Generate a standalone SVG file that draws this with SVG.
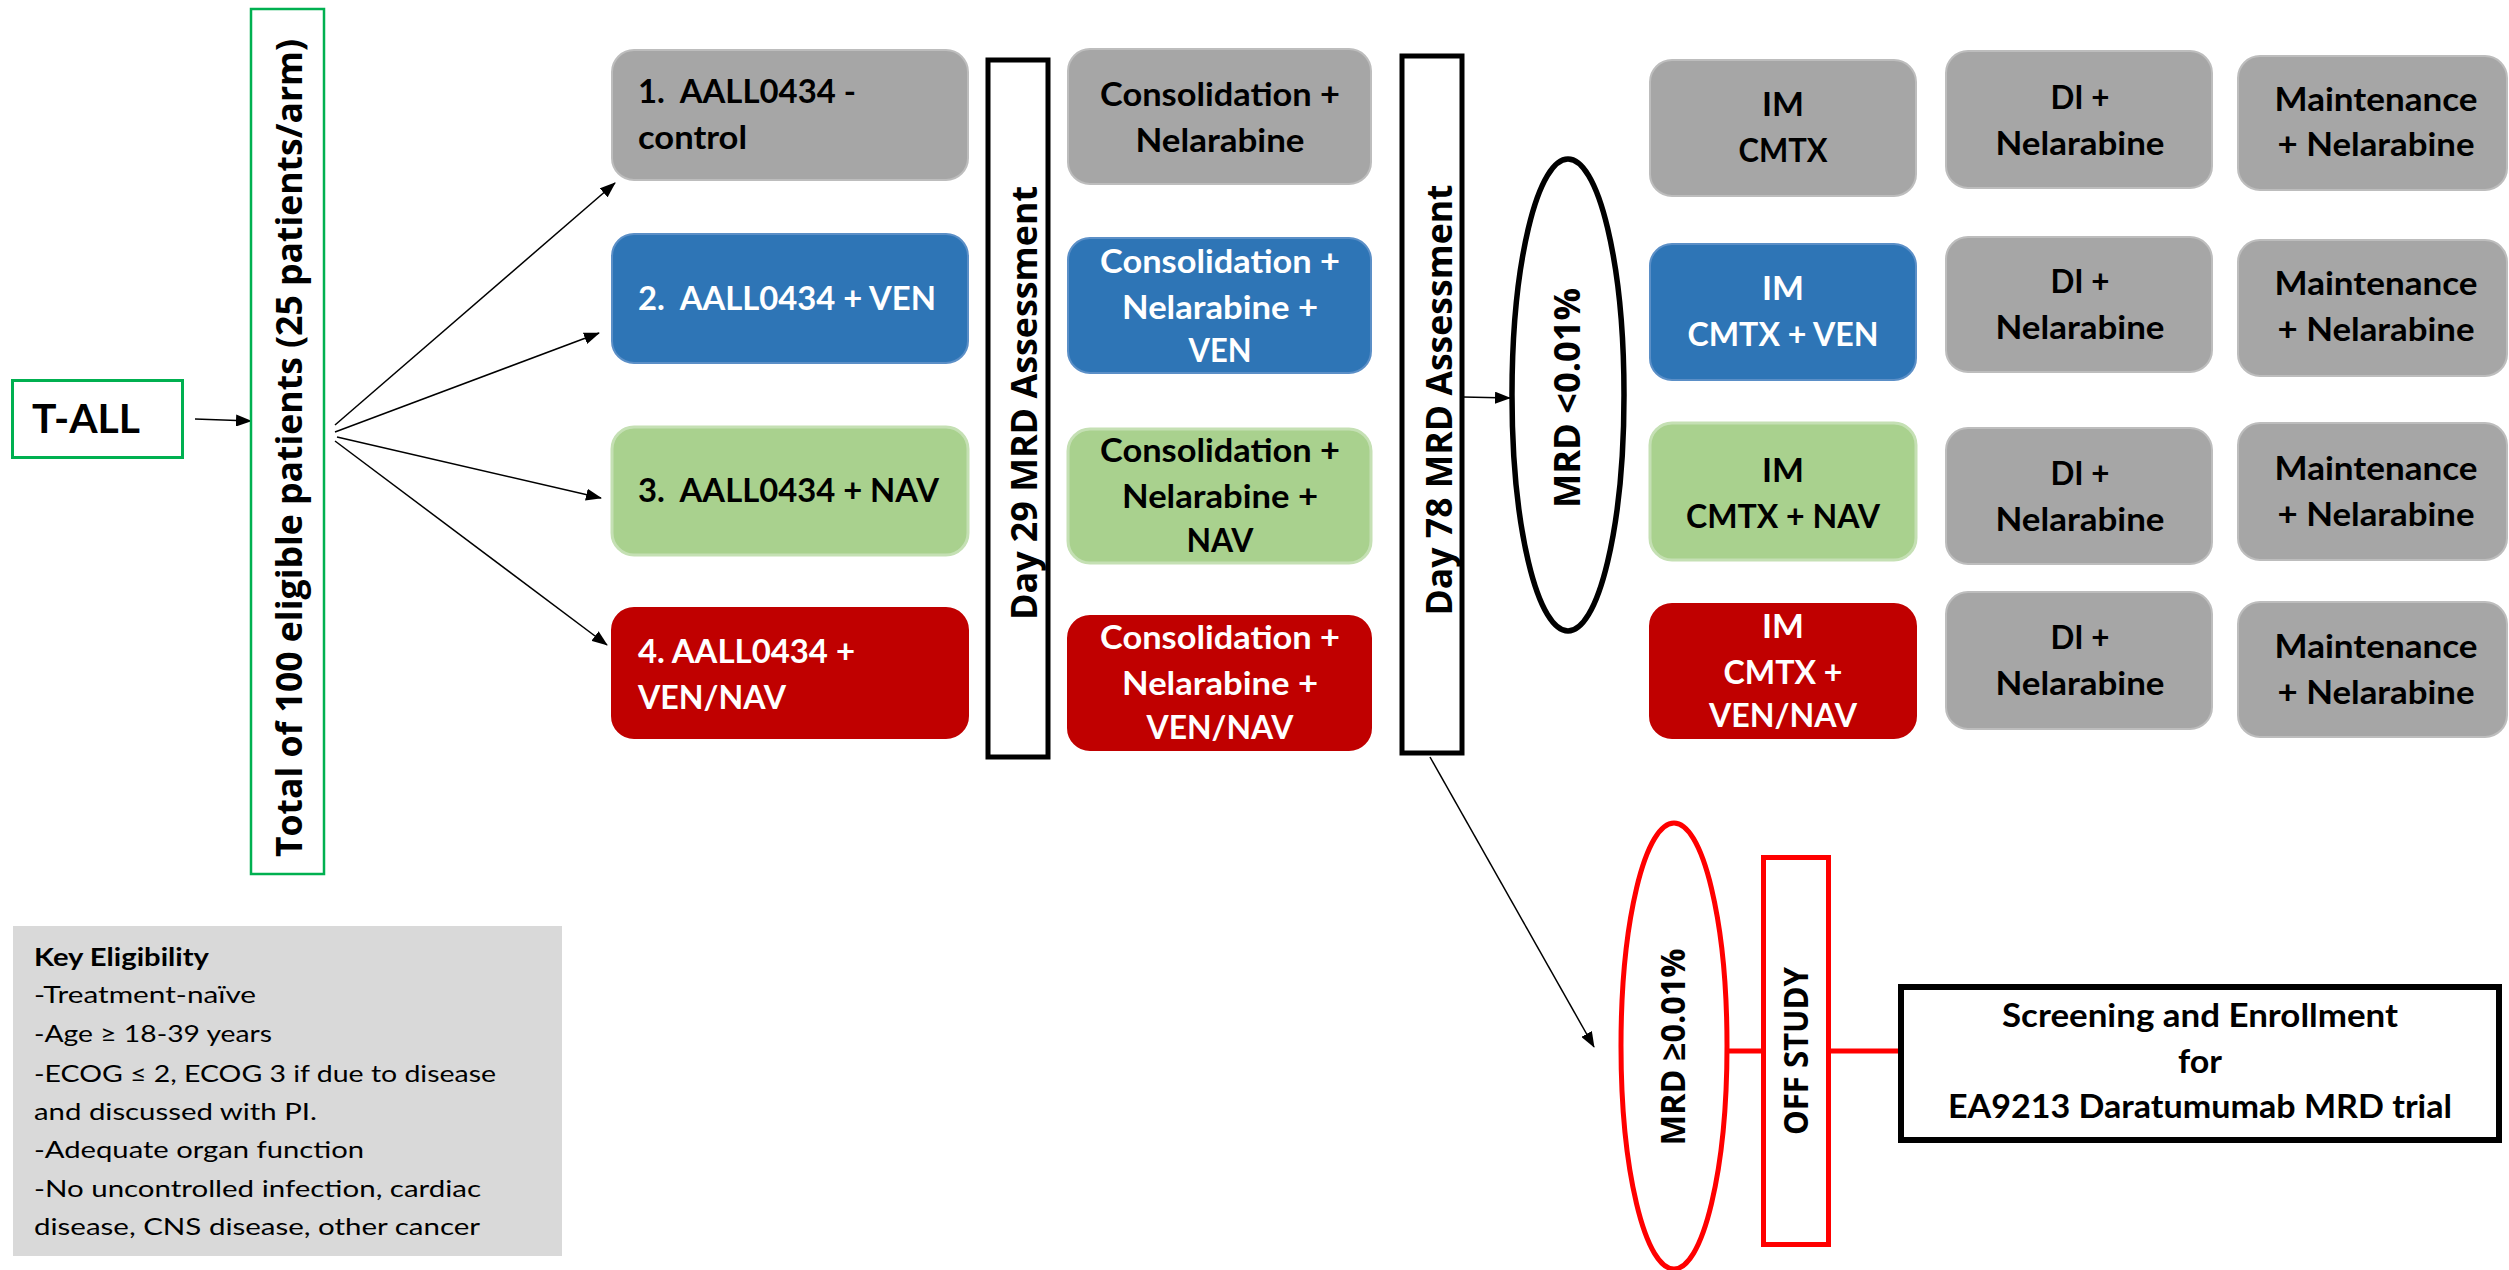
<svg xmlns="http://www.w3.org/2000/svg" width="2509" height="1270" viewBox="0 0 2509 1270">
<style>
.c{font-family:"Lato","Liberation Sans",sans-serif;font-weight:bold;font-size:33px;lengthAdjust:spacingAndGlyphs}
.m{text-anchor:middle}
.w{fill:#ffffff}
.k{fill:#000000}
.r{font-family:"Open Sans","DejaVu Sans",sans-serif;font-weight:bold;font-size:36px;text-anchor:middle}
.kt{font-family:"Lato","Liberation Sans",sans-serif;font-size:24px;fill:#000}
.gray{fill:#A6A6A6;stroke:#BDBDBD;stroke-width:2}
.blue{fill:#2E75B6;stroke:#5B8FC7;stroke-width:2}
.green{fill:#A9D18E;stroke:#C5E0B4;stroke-width:3}
.red{fill:#C00000;stroke:#C00000;stroke-width:2}
.conn{stroke:#000;stroke-width:1.5;fill:none}
.redc{stroke:#FF0000;stroke-width:5;fill:none}
</style>
<defs>
<marker id="ah" markerUnits="userSpaceOnUse" markerWidth="16" markerHeight="12" refX="15" refY="6" orient="auto">
<path d="M0,0 L16,6 L0,12 z" fill="#000"/>
</marker>
</defs>
<rect width="2509" height="1270" fill="#ffffff"/>

<g id="connectors">
<line class="conn" x1="195" y1="419" x2="251" y2="421" marker-end="url(#ah)"/>
<line class="conn" x1="335" y1="425" x2="615" y2="183" marker-end="url(#ah)"/>
<line class="conn" x1="335" y1="432" x2="599" y2="333" marker-end="url(#ah)"/>
<line class="conn" x1="337" y1="437" x2="601" y2="498" marker-end="url(#ah)"/>
<line class="conn" x1="335" y1="441" x2="607" y2="645" marker-end="url(#ah)"/>
<line class="conn" x1="1463" y1="397" x2="1510" y2="398" marker-end="url(#ah)"/>
<line class="conn" x1="1430" y1="757" x2="1594" y2="1047" marker-end="url(#ah)"/>
<line class="redc" x1="1727" y1="1051" x2="1762" y2="1051"/>
<line class="redc" x1="1831" y1="1051" x2="1900" y2="1051"/>
</g>

<g id="t-all">
<rect x="12.5" y="380.5" width="170" height="77" fill="#fff" stroke="#00B050" stroke-width="3"/>
<text class="c k" x="32" y="433" style="font-size:40px" textLength="108" lengthAdjust="spacingAndGlyphs">T-ALL</text>
</g>

<g id="total">
<rect x="251" y="9" width="73" height="865" fill="#fff" stroke="#00B050" stroke-width="2.5"/>
<text class="r" transform="translate(289,448) rotate(-90)" x="0" y="13" textLength="818" lengthAdjust="spacingAndGlyphs">Total of 100 eligible patients (25 patients/arm)</text>
</g>

<g id="arm1">
<rect class="gray" x="612" y="50" width="356" height="130" rx="22"/>
<text class="c k" x="638" y="103" style="white-space:pre" textLength="218" lengthAdjust="spacingAndGlyphs">1.  AALL0434 -</text>
<text class="c k" x="638" y="149" textLength="109" lengthAdjust="spacingAndGlyphs">control</text>
</g>
<g id="arm2">
<rect class="blue" x="612" y="234" width="356" height="129" rx="22"/>
<text class="c w" x="638" y="310" style="white-space:pre" textLength="298" lengthAdjust="spacingAndGlyphs">2.  AALL0434 + VEN</text>
</g>
<g id="arm3">
<rect class="green" x="612" y="427" width="356" height="128" rx="22"/>
<text class="c k" x="638" y="502" style="white-space:pre" textLength="301" lengthAdjust="spacingAndGlyphs">3.  AALL0434 + NAV</text>
</g>
<g id="arm4">
<rect class="red" x="612" y="608" width="356" height="130" rx="22"/>
<text class="c w" x="638" y="663" textLength="217" lengthAdjust="spacingAndGlyphs">4. AALL0434 +</text>
<text class="c w" x="638" y="709" textLength="148" lengthAdjust="spacingAndGlyphs">VEN/NAV</text>
</g>

<g id="day29">
<rect x="988" y="60" width="60" height="697" fill="#fff" stroke="#000" stroke-width="5"/>
<text class="r" transform="translate(1024,403) rotate(-90)" x="0" y="13" textLength="434" lengthAdjust="spacingAndGlyphs">Day 29 MRD Assessment</text>
</g>

<g id="cons1">
<rect class="gray" x="1068" y="49" width="303" height="135" rx="22"/>
<text class="c k m" x="1220" y="106" textLength="240" lengthAdjust="spacingAndGlyphs">Consolidation +</text>
<text class="c k m" x="1220" y="152" textLength="169" lengthAdjust="spacingAndGlyphs">Nelarabine</text>
</g>
<g id="cons2">
<rect class="blue" x="1068" y="238" width="303" height="135" rx="22"/>
<text class="c w m" x="1220" y="273" textLength="240" lengthAdjust="spacingAndGlyphs">Consolidation +</text>
<text class="c w m" x="1220" y="319" textLength="196" lengthAdjust="spacingAndGlyphs">Nelarabine +</text>
<text class="c w m" x="1220" y="362" textLength="63" lengthAdjust="spacingAndGlyphs">VEN</text>
</g>
<g id="cons3">
<rect class="green" x="1068" y="429" width="303" height="134" rx="22"/>
<text class="c k m" x="1220" y="462" textLength="240" lengthAdjust="spacingAndGlyphs">Consolidation +</text>
<text class="c k m" x="1220" y="508" textLength="196" lengthAdjust="spacingAndGlyphs">Nelarabine +</text>
<text class="c k m" x="1220" y="552" textLength="67" lengthAdjust="spacingAndGlyphs">NAV</text>
</g>
<g id="cons4">
<rect class="red" x="1068" y="616" width="303" height="134" rx="22"/>
<text class="c w m" x="1220" y="649" textLength="240" lengthAdjust="spacingAndGlyphs">Consolidation +</text>
<text class="c w m" x="1220" y="695" textLength="196" lengthAdjust="spacingAndGlyphs">Nelarabine +</text>
<text class="c w m" x="1220" y="739" textLength="147" lengthAdjust="spacingAndGlyphs">VEN/NAV</text>
</g>

<g id="day78">
<rect x="1402" y="56" width="60" height="697" fill="#fff" stroke="#000" stroke-width="5"/>
<text class="r" transform="translate(1439,400) rotate(-90)" x="0" y="13" textLength="431" lengthAdjust="spacingAndGlyphs">Day 78 MRD Assessment</text>
</g>

<g id="mrd-low">
<ellipse cx="1568" cy="395" rx="56" ry="236" fill="#fff" stroke="#000" stroke-width="5.5"/>
<text class="r" transform="translate(1567,398) rotate(-90)" x="0" y="13" textLength="220" lengthAdjust="spacingAndGlyphs">MRD &lt;0.01%</text>
</g>

<g id="im1">
<rect class="gray" x="1650" y="60" width="266" height="136" rx="22"/>
<text class="c k m" x="1783" y="116" textLength="42" lengthAdjust="spacingAndGlyphs">IM</text>
<text class="c k m" x="1783" y="162" textLength="89" lengthAdjust="spacingAndGlyphs">CMTX</text>
</g>
<g id="im2">
<rect class="blue" x="1650" y="244" width="266" height="136" rx="22"/>
<text class="c w m" x="1783" y="300" textLength="42" lengthAdjust="spacingAndGlyphs">IM</text>
<text class="c w m" x="1783" y="346" textLength="191" lengthAdjust="spacingAndGlyphs">CMTX + VEN</text>
</g>
<g id="im3">
<rect class="green" x="1650" y="423" width="266" height="137" rx="22"/>
<text class="c k m" x="1783" y="482" textLength="42" lengthAdjust="spacingAndGlyphs">IM</text>
<text class="c k m" x="1783" y="528" textLength="194" lengthAdjust="spacingAndGlyphs">CMTX + NAV</text>
</g>
<g id="im4">
<rect class="red" x="1650" y="604" width="266" height="134" rx="22"/>
<text class="c w m" x="1783" y="638" textLength="42" lengthAdjust="spacingAndGlyphs">IM</text>
<text class="c w m" x="1783" y="684" textLength="119" lengthAdjust="spacingAndGlyphs">CMTX +</text>
<text class="c w m" x="1783" y="727" textLength="148" lengthAdjust="spacingAndGlyphs">VEN/NAV</text>
</g>

<g id="di1">
<rect class="gray" x="1946" y="51" width="266" height="137" rx="22"/>
<text class="c k m" x="2080" y="109" textLength="59" lengthAdjust="spacingAndGlyphs">DI +</text>
<text class="c k m" x="2080" y="155" textLength="169" lengthAdjust="spacingAndGlyphs">Nelarabine</text>
</g>
<g id="di2">
<rect class="gray" x="1946" y="237" width="266" height="135" rx="22"/>
<text class="c k m" x="2080" y="293" textLength="59" lengthAdjust="spacingAndGlyphs">DI +</text>
<text class="c k m" x="2080" y="339" textLength="169" lengthAdjust="spacingAndGlyphs">Nelarabine</text>
</g>
<g id="di3">
<rect class="gray" x="1946" y="428" width="266" height="136" rx="22"/>
<text class="c k m" x="2080" y="485" textLength="59" lengthAdjust="spacingAndGlyphs">DI +</text>
<text class="c k m" x="2080" y="531" textLength="169" lengthAdjust="spacingAndGlyphs">Nelarabine</text>
</g>
<g id="di4">
<rect class="gray" x="1946" y="592" width="266" height="137" rx="22"/>
<text class="c k m" x="2080" y="649" textLength="59" lengthAdjust="spacingAndGlyphs">DI +</text>
<text class="c k m" x="2080" y="695" textLength="169" lengthAdjust="spacingAndGlyphs">Nelarabine</text>
</g>

<g id="maint1">
<rect class="gray" x="2238" y="56" width="269" height="134" rx="22"/>
<text class="c k m" x="2376" y="111" textLength="203" lengthAdjust="spacingAndGlyphs">Maintenance</text>
<text class="c k m" x="2376" y="156" textLength="197" lengthAdjust="spacingAndGlyphs">+ Nelarabine</text>
</g>
<g id="maint2">
<rect class="gray" x="2238" y="240" width="269" height="136" rx="22"/>
<text class="c k m" x="2376" y="295" textLength="203" lengthAdjust="spacingAndGlyphs">Maintenance</text>
<text class="c k m" x="2376" y="341" textLength="197" lengthAdjust="spacingAndGlyphs">+ Nelarabine</text>
</g>
<g id="maint3">
<rect class="gray" x="2238" y="423" width="269" height="137" rx="22"/>
<text class="c k m" x="2376" y="480" textLength="203" lengthAdjust="spacingAndGlyphs">Maintenance</text>
<text class="c k m" x="2376" y="526" textLength="197" lengthAdjust="spacingAndGlyphs">+ Nelarabine</text>
</g>
<g id="maint4">
<rect class="gray" x="2238" y="602" width="269" height="135" rx="22"/>
<text class="c k m" x="2376" y="658" textLength="203" lengthAdjust="spacingAndGlyphs">Maintenance</text>
<text class="c k m" x="2376" y="704" textLength="197" lengthAdjust="spacingAndGlyphs">+ Nelarabine</text>
</g>

<g id="mrd-high">
<ellipse cx="1674" cy="1046" rx="53" ry="223" fill="#fff" stroke="#FF0000" stroke-width="5"/>
<text class="r" transform="translate(1673,1047) rotate(-90)" x="0" y="12" style="font-size:34px" textLength="197" lengthAdjust="spacingAndGlyphs">MRD ≥0.01%</text>
</g>

<g id="off-study">
<rect x="1763.5" y="857.5" width="65" height="387" fill="#fff" stroke="#FF0000" stroke-width="5"/>
<text class="r" transform="translate(1796,1051) rotate(-90)" x="0" y="12" style="font-size:34px" textLength="168" lengthAdjust="spacingAndGlyphs">OFF STUDY</text>
</g>

<g id="screening">
<rect x="1901" y="987" width="598" height="153" fill="#fff" stroke="#000" stroke-width="6"/>
<text class="c k m" x="2200" y="1027" textLength="396" lengthAdjust="spacingAndGlyphs">Screening and Enrollment</text>
<text class="c k m" x="2200" y="1073" textLength="44" lengthAdjust="spacingAndGlyphs">for</text>
<text class="c k m" x="2200" y="1118" textLength="504" lengthAdjust="spacingAndGlyphs">EA9213 Daratumumab MRD trial</text>
</g>

<g id="eligibility">
<rect x="13" y="926" width="549" height="330" fill="#D9D9D9"/>
<text class="kt" x="34" y="966" style="font-weight:bold" textLength="175" lengthAdjust="spacingAndGlyphs">Key Eligibility</text>
<text class="kt" x="34" y="1003" textLength="222" lengthAdjust="spacingAndGlyphs">-Treatment-naïve</text>
<text class="kt" x="34" y="1042" textLength="238" lengthAdjust="spacingAndGlyphs">-Age ≥ 18-39 years</text>
<text class="kt" x="34" y="1082" textLength="462" lengthAdjust="spacingAndGlyphs">-ECOG ≤ 2, ECOG 3 if due to disease</text>
<text class="kt" x="34" y="1120" textLength="283" lengthAdjust="spacingAndGlyphs">and discussed with PI.</text>
<text class="kt" x="34" y="1158" textLength="330" lengthAdjust="spacingAndGlyphs">-Adequate organ function</text>
<text class="kt" x="34" y="1197" textLength="447" lengthAdjust="spacingAndGlyphs">-No uncontrolled infection, cardiac</text>
<text class="kt" x="34" y="1235" textLength="446" lengthAdjust="spacingAndGlyphs">disease, CNS disease, other cancer</text>
</g>
</svg>
